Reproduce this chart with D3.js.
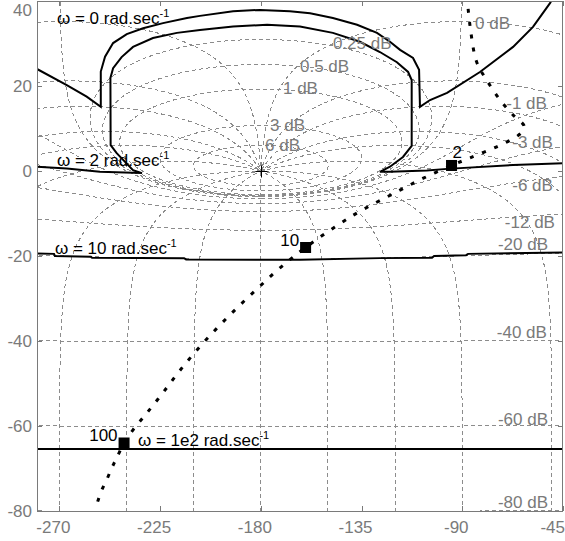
<!DOCTYPE html>
<html>
<head>
<meta charset="utf-8">
<script src="https://cdn.jsdelivr.net/npm/d3@7"></script>
<style>
  html, body { margin: 0; padding: 0; background: #fff; }
  svg { display: block; font-family: "Liberation Sans", Arial, sans-serif; }
</style>
</head>
<body>
<svg id="chart" width="565" height="541"></svg>
<script>
// ---- Nichols grid values ----
// closed-loop gain contours (dB)
const gainContoursDb = [6, 3, 1, 0.5, 0.25, 0, -1, -3, -6, -12, -20, -40, -60, -80];
// closed-loop phase contours (deg); each is also drawn mirrored about -180
const phaseContoursDeg = [-1, -5, -10, -20, -30, -50, -90, -120, -150, -180];

// ---- axes ----
const phaseTicks = [-270, -225, -180, -135, -90, -45];
const gainTicks = [-80, -60, -40, -20, 0, 20, 40];

// ---- nominal open-loop response ----
const loopPhase = [-87.9, -86.5, -83.6, -79.1, -73.1, -67.3, -62.4, -63.0, -65.7, -74.6, -86.5, -94.8,
  -107.4, -117.8, -139.3, -160.0, -171.0, -180.8, -190.6, -200.0, -209.0, -217.0, -224.2, -231.3,
  -237.1, -241.1, -244.4, -246.6, -248.9, -251.1, -252.9];
const loopGain = [41.2, 34.0, 25.7, 21.4, 16.7, 13.2, 10.6, 9.4, 8.1, 5.7, 3.1, 1.3,
  -1.7, -4.5, -10.6, -18.0, -22.6, -27.3, -32.2, -37.2, -42.4, -47.5, -52.5, -57.2,
  -60.9, -64.0, -67.5, -69.9, -72.7, -75.1, -77.8];

// marked frequencies (rad/s) on the response
const markFreq = ["2", "10", "100"];
const markPhase = [-94.8, -160.0, -241.1];
const markGain = [1.3, -18.0, -64.0];

// ---- performance bounds at each frequency ----
const bound0Phase = [-280, -266.7, -257.8, -251.5, -251.5, -249.6, -246.0, -239.9, -232.6, -223.7, -213.0,
  -207.2, -192.4, -180.4, -167.0, -158.0, -147.8, -137.0, -128.1, -122.3, -117.8, -112.0, -109.3, -108.9,
  -104.4, -96.8, -82.1, -67.3, -58.4, -50.8, -49.5];
const bound0Gain = [24.0, 20.2, 17.5, 15.1, 23.4, 26.9, 30.1, 32.2, 33.6, 34.8, 36.0,
  36.5, 37.6, 37.9, 37.6, 37.1, 36.0, 34.4, 32.5, 30.4, 28.5, 26.6, 23.8, 15.1,
  16.7, 18.4, 23.3, 29.2, 33.9, 39.5, 40.7];

const bound2Phase = [-280, -266.7, -251.9, -237.1, -233.1, -237.1, -244.4, -247.1, -247.2, -246.0, -242.2,
  -237.1, -228.2, -217.5, -207.2, -192.4, -177.2, -162.5, -147.8, -135.7, -126.8, -119.2, -114.2, -112.6,
  -112.6, -116.5, -122.3, -126.8, -122.3, -105.8, -96.8, -67.3, -45];
const bound2Gain = [1.0, 0.6, -0.2, -0.4, -0.5, 0.2, 4.2, 6.1, 21.9, 24.2, 26.8,
  29.2, 31.3, 32.5, 33.2, 34.0, 34.4, 34.0, 32.5, 30.4, 28.0, 25.6, 23.3, 21.4,
  5.9, 3.3, 1.0, -0.2, -0.2, 0.1, 0.5, 1.4, 1.8];

const bound10Phase = [-280, -272.4, -272.0, -255.9, -255.4, -214.3, -213.4, -162.5, -126.8, -103.5, -102.6, -88.3, -87.4, -45];
const bound10Gain = [-19.4, -19.5, -20.0, -20.2, -20.4, -20.5, -20.8, -20.9, -20.5, -20.4, -20.0, -19.8, -19.5, -19.2];

const bound100Phase = [-280, -45];
const bound100Gain = [-65.4, -65.4];

const boundFreqText = ["0", "2", "10", "1e2"];

// ---- layout ----
const W = 565, H = 541;
const plot = { left: 37, right: 563, top: 1, bottom: 511 };
const x = d3.scaleLinear().domain([-280, -45]).range([plot.left, plot.right]);
const y = d3.scaleLinear().domain([-80, 40]).range([plot.bottom, plot.top]);

const svg = d3.select("#chart");
const GRID = "#8c8c8c", TEXT_GRAY = "#7a7a7a";

svg.append("defs").append("clipPath").attr("id", "plotClip")
  .append("rect")
  .attr("x", plot.left).attr("y", plot.top)
  .attr("width", plot.right - plot.left).attr("height", plot.bottom - plot.top);

const body = svg.append("g").attr("clip-path", "url(#plotClip)");

// open-loop point for a closed-loop value T = m e^{j psi}: L = T / (1 - T)
function openLoop(m, psiDeg) {
  const p = psiDeg * Math.PI / 180;
  const tr = m * Math.cos(p), ti = m * Math.sin(p);
  const dr = 1 - tr, di = -ti;
  const den = dr * dr + di * di;
  const lr = (tr * dr + ti * di) / den, li = (ti * dr - tr * di) / den;
  let ph = Math.atan2(li, lr) * 180 / Math.PI;
  if (ph > 0) ph -= 360;
  return [ph, 10 * Math.log10(lr * lr + li * li)];
}

// split a sampled curve into drawable runs (break on wraps / leaving a padded window)
function runs(points) {
  const out = [];
  let cur = [];
  let prev = null;
  for (const p of points) {
    const ok = isFinite(p[1]) && p[0] > -320 && p[0] < -5 && p[1] > -110 && p[1] < 70;
    const jump = prev && Math.abs(p[0] - prev[0]) > 60;
    if (!ok || jump) {
      if (cur.length > 1) out.push(cur);
      cur = ok ? [p] : [];
    } else cur.push(p);
    prev = p;
  }
  if (cur.length > 1) out.push(cur);
  return out;
}

const gridLine = d3.line().x(d => x(d[0])).y(d => y(d[1]));
const gridG = body.append("g")
  .attr("fill", "none").attr("stroke", GRID).attr("stroke-width", 1)
  .attr("stroke-dasharray", "4,3").attr("shape-rendering", "crispEdges");

// gain contours
gainContoursDb.forEach(g => {
  const m = Math.pow(10, g / 20);
  const pts = [];
  for (let psi = -180; psi <= 180.0001; psi += 0.05) {
    if (g === 0 && Math.abs(psi) < 0.02) { pts.push([NaN, NaN]); continue; }
    pts.push(openLoop(m, psi));
  }
  runs(pts).forEach(r => gridG.append("path").attr("d", gridLine(r)));
});

// phase contours
const uSteps = [];
for (let u = -5; u < -0.05; u += 0.002) uSteps.push(u);
for (let u = -0.05; u < 0.05; u += 0.0001) uSteps.push(u);
for (let u = 0.05; u <= 5; u += 0.002) uSteps.push(u);
phaseContoursDeg.forEach(psi => {
  const pts = uSteps.map(u => openLoop(Math.pow(10, u), psi));
  runs(pts).forEach(r => gridG.append("path").attr("d", gridLine(r)));
  if (psi !== -180) {
    const mir = pts.map(p => [-360 - p[0], p[1]]);
    runs(mir).forEach(r => gridG.append("path").attr("d", gridLine(r)));
  }
});

// critical point
const cx0 = Math.round(x(-180)) + 0.5, cy0 = Math.round(y(0)) + 0.5;
body.append("path")
  .attr("d", `M${cx0 - 6},${cy0}H${cx0 + 6}M${cx0},${cy0 - 6}V${cy0 + 6}`)
  .attr("stroke", "#000").attr("stroke-width", 1).attr("fill", "none");

// gain contour labels
const labelFont = 17;
const posLabels = [
  { g: 6, ph: -178.1, db: 5.9 }, { g: 3, ph: -175.9, db: 10.6 }, { g: 1, ph: -170.1, db: 19.3 },
  { g: 0.5, ph: -162.5, db: 24.7 }, { g: 0.25, ph: -147.8, db: 30.1 }, { g: 0, ph: -84.3, db: 34.6 }
];
const negLabels = [
  { g: -1, ph: -52.2, db: 16.0 }, { g: -3, ph: -49.5, db: 6.6 }, { g: -6, ph: -49.5, db: -3.5 },
  { g: -12, ph: -48.6, db: -12.0 }, { g: -20, ph: -51.7, db: -17.4 }, { g: -40, ph: -52.2, db: -38.1 },
  { g: -60, ph: -51.7, db: -58.4 }, { g: -80, ph: -51.7, db: -78.1 }
];
const lblG = svg.append("g").attr("fill", TEXT_GRAY).attr("font-size", labelFont);
posLabels.filter(d => gainContoursDb.includes(d.g)).forEach(d => {
  lblG.append("text").attr("x", x(d.ph)).attr("y", y(d.db))
    .attr("dominant-baseline", "central").text(`${d.g} dB`);
});
negLabels.filter(d => gainContoursDb.includes(d.g)).forEach(d => {
  lblG.append("text").attr("x", x(d.ph)).attr("y", y(d.db))
    .attr("text-anchor", "end").attr("dominant-baseline", "central").text(`${d.g} dB`);
});

// bounds
const solid = d3.line().x(d => x(d[0])).y(d => y(d[1]));
const zip = (a, b) => a.map((v, i) => [v, b[i]]);
const boundG = body.append("g").attr("fill", "none").attr("stroke", "#000").attr("stroke-width", 2);
[[bound0Phase, bound0Gain], [bound2Phase, bound2Gain], [bound10Phase, bound10Gain], [bound100Phase, bound100Gain]]
  .forEach(([p, g]) => boundG.append("path").attr("d", solid(zip(p, g))));

// open-loop response
body.append("path")
  .attr("d", d3.line().curve(d3.curveCatmullRom.alpha(0.5)).x(d => x(d[0])).y(d => y(d[1]))(zip(loopPhase, loopGain)))
  .attr("fill", "none").attr("stroke", "#000").attr("stroke-width", 3)
  .attr("stroke-dasharray", "4,9");

// frequency markers
const ms = 11;
markFreq.forEach((f, i) => {
  const mx = x(markPhase[i]), my = y(markGain[i]);
  svg.append("rect").attr("x", mx - ms / 2).attr("y", my - ms / 2).attr("width", ms).attr("height", ms).attr("fill", "#000");
  const t = svg.append("text").attr("font-size", labelFont).attr("fill", "#000").text(f);
  if (i === 0) t.attr("x", mx + 1).attr("y", my - 7);
  else t.attr("x", mx - 6.5).attr("y", my - 2).attr("text-anchor", "end");
});

// bound labels
const boundLabelAt = [[-271.1, 34.6], [-271.1, 1.2], [-272.0, -19.5], [-234.9, -64.7]];
boundFreqText.forEach((f, i) => {
  const t = svg.append("text").attr("font-size", labelFont).attr("fill", "#000")
    .attr("x", x(boundLabelAt[i][0])).attr("y", y(boundLabelAt[i][1]));
  t.append("tspan").text(`\u03c9 = ${f} rad.sec`);
  t.append("tspan").attr("font-size", 11).attr("dy", -7).text("-1");
});

// frame and ticks
svg.append("rect")
  .attr("x", plot.left + 0.5).attr("y", plot.top + 0.5)
  .attr("width", plot.right - plot.left - 1).attr("height", plot.bottom - plot.top)
  .attr("fill", "none").attr("stroke", TEXT_GRAY).attr("stroke-width", 1);

const tickG = svg.append("g").attr("stroke", TEXT_GRAY).attr("stroke-width", 1);
phaseTicks.forEach(v => {
  const px = Math.round(x(v)) + 0.5;
  tickG.append("line").attr("x1", px).attr("x2", px).attr("y1", plot.bottom).attr("y2", plot.bottom - 5);
  tickG.append("line").attr("x1", px).attr("x2", px).attr("y1", plot.top).attr("y2", plot.top + 5);
});
gainTicks.forEach(v => {
  const py = Math.round(y(v)) + 0.5;
  tickG.append("line").attr("x1", plot.left).attr("x2", plot.left + 5).attr("y1", py).attr("y2", py);
  tickG.append("line").attr("x1", plot.right).attr("x2", plot.right - 5).attr("y1", py).attr("y2", py);
});

const tickText = svg.append("g").attr("fill", TEXT_GRAY).attr("font-size", labelFont);
phaseTicks.forEach(v => {
  const t = tickText.append("text").attr("x", x(v) - 6).attr("y", 527)
    .attr("text-anchor", "middle").attr("dominant-baseline", "central").text(v);
  const bb = t.node().getBBox();
  if (bb.x + bb.width > W) t.attr("x", x(v) - 6 - (bb.x + bb.width - W));
});
gainTicks.forEach(v => {
  tickText.append("text").attr("x", 32).attr("y", Math.max(y(v), 10))
    .attr("text-anchor", "end").attr("dominant-baseline", "central").text(v);
});
</script>
</body>
</html>
